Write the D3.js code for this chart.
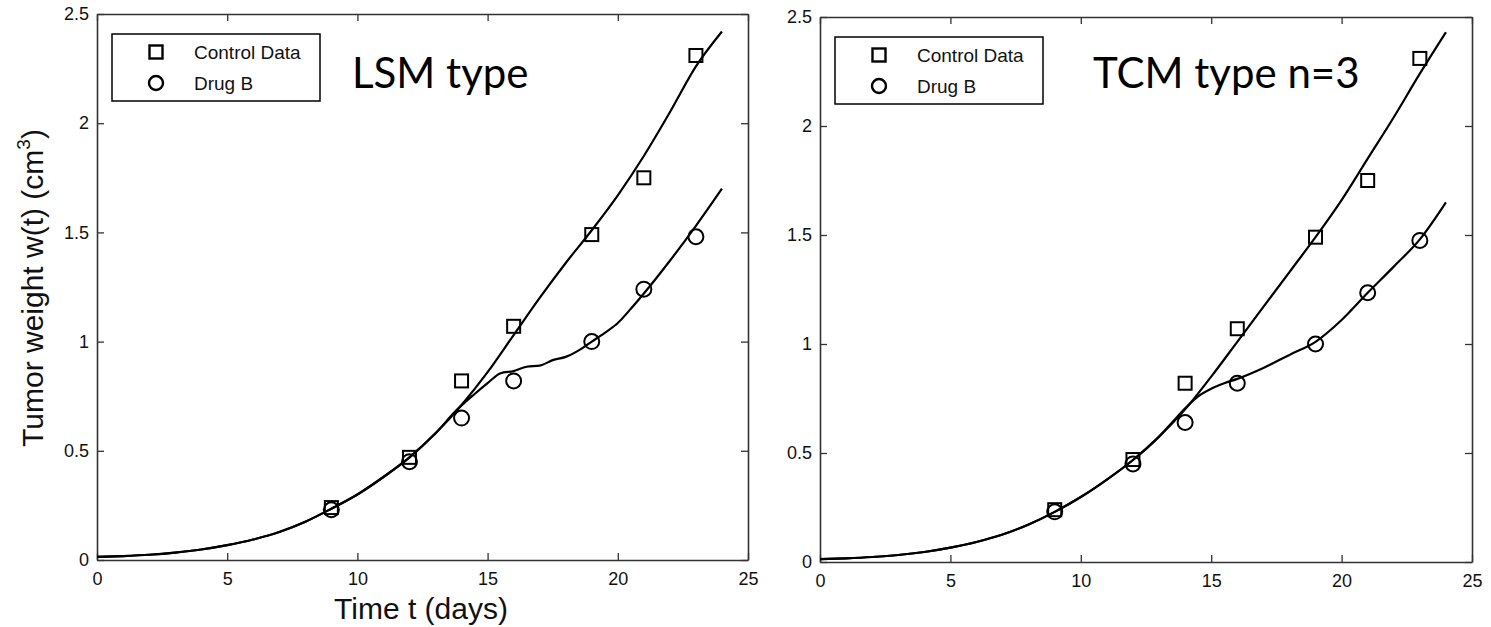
<!DOCTYPE html>
<html>
<head>
<meta charset="utf-8">
<script src="https://cdn.jsdelivr.net/npm/d3@7"></script>
<style>
  body { margin: 0; background: #fff; }
  svg { display: block; }
</style>
</head>
<body>
<div id="chart"></div>
<script>
// measured days and weights
const days = [9, 12, 14, 16, 19, 21, 23];
const controlData = [0.24, 0.47, 0.82, 1.07, 1.49, 1.75, 2.31];
const drugLSM = [0.23, 0.45, 0.65, 0.82, 1.00, 1.24, 1.48];
const drugTCM = [0.23, 0.45, 0.64, 0.82, 1.00, 1.235, 1.475];

// model curves
const fitT = [0, 1, 2, 3, 4, 5, 6, 7, 8, 9, 10, 11, 12, 13, 14, 15, 16, 17, 18, 19, 20, 21, 22, 23, 24];
const lsmControlW = [0.014, 0.018, 0.024, 0.034, 0.048, 0.068, 0.094, 0.128, 0.175, 0.235, 0.30, 0.38, 0.47, 0.58, 0.71, 0.86, 1.03, 1.20, 1.36, 1.51, 1.67, 1.85, 2.05, 2.26, 2.42];
const tcmControlW = [0.013, 0.017, 0.023, 0.032, 0.046, 0.066, 0.092, 0.126, 0.172, 0.23, 0.298, 0.378, 0.468, 0.575, 0.70, 0.85, 1.01, 1.17, 1.33, 1.49, 1.66, 1.85, 2.04, 2.24, 2.43];

const lsmDrugT = [0, 1, 2, 3, 4, 5, 6, 7, 8, 9, 10, 11, 12, 13, 13.8, 14.5, 15, 15.5, 16, 16.5, 17, 17.5, 18, 18.5, 19, 19.5, 20, 20.5, 21, 22, 23, 24];
const lsmDrugW = [0.014, 0.018, 0.024, 0.034, 0.048, 0.068, 0.094, 0.128, 0.175, 0.235, 0.30, 0.38, 0.47, 0.58, 0.685, 0.76, 0.81, 0.855, 0.865, 0.885, 0.89, 0.915, 0.93, 0.96, 1.0, 1.04, 1.085, 1.15, 1.22, 1.37, 1.53, 1.70];

const tcmDrugT = [0, 1, 2, 3, 4, 5, 6, 7, 8, 9, 10, 11, 12, 13, 13.5, 14, 14.5, 15, 15.5, 16, 17, 18, 19, 20, 21, 22, 23, 24];
const tcmDrugW = [0.013, 0.017, 0.023, 0.032, 0.046, 0.066, 0.092, 0.126, 0.172, 0.23, 0.298, 0.378, 0.468, 0.575, 0.64, 0.705, 0.76, 0.795, 0.82, 0.84, 0.89, 0.95, 1.01, 1.11, 1.235, 1.355, 1.48, 1.65];

const xTicks = [0, 5, 10, 15, 20, 25];
const yTicks = [0, 0.5, 1, 1.5, 2, 2.5];
const legendLabels = ['Control Data', 'Drug B'];

const width = 1491, height = 627;

const svg = d3.select('#chart')
    .append('svg')
    .attr('width', width)
    .attr('height', height);

function drawPanel(cfg) {
    const x = d3.scaleLinear().domain([0, 25]).range([cfg.left, cfg.right]);
    const y = d3.scaleLinear().domain([0, 2.5]).range([cfg.bottom, cfg.top]);
    const g = svg.append('g');

    // axes, ticks pointing inward
    const fmt = d => String(d);
    const bottom = g.append('g')
        .attr('transform', `translate(0,${cfg.bottom})`)
        .call(d3.axisBottom(x).tickValues(xTicks).tickSize(-7).tickSizeOuter(0).tickPadding(12).tickFormat(fmt));
    const leftAx = g.append('g')
        .attr('transform', `translate(${cfg.left},0)`)
        .call(d3.axisLeft(y).tickValues(yTicks).tickSize(-7).tickSizeOuter(0).tickPadding(8).tickFormat(fmt));
    const topAx = g.append('g')
        .attr('transform', `translate(0,${cfg.top})`)
        .call(d3.axisTop(x).tickValues(xTicks).tickSize(-7).tickSizeOuter(0).tickFormat(''));
    const rightAx = g.append('g')
        .attr('transform', `translate(${cfg.right},0)`)
        .call(d3.axisRight(y).tickValues(yTicks).tickSize(-7).tickSizeOuter(0).tickFormat(''));

    [bottom, leftAx, topAx, rightAx].forEach(a => {
        a.select('.domain').attr('stroke', '#333').attr('stroke-width', 1.6);
        a.selectAll('.tick line').attr('stroke', '#333').attr('stroke-width', 1.3);
        a.selectAll('.tick text')
            .attr('font-family', 'Liberation Sans, Arial, sans-serif')
            .attr('font-size', 18)
            .attr('fill', '#111');
    });

    // fitted curves
    const line = d3.line()
        .x(d => x(d[0]))
        .y(d => y(d[1]))
        .curve(d3.curveMonotoneX);

    g.append('path')
        .datum(d3.zip(fitT, cfg.controlW))
        .attr('d', line)
        .attr('fill', 'none')
        .attr('stroke', '#000')
        .attr('stroke-width', 2.2);

    g.append('path')
        .datum(d3.zip(cfg.drugT, cfg.drugW))
        .attr('d', line)
        .attr('fill', 'none')
        .attr('stroke', '#000')
        .attr('stroke-width', 2.2);

    // data markers
    const sq = 13;
    g.selectAll('rect.ctrl')
        .data(d3.zip(days, controlData))
        .join('rect')
        .attr('class', 'ctrl')
        .attr('x', d => x(d[0]) - sq / 2)
        .attr('y', d => y(d[1]) - sq / 2)
        .attr('width', sq)
        .attr('height', sq)
        .attr('fill', 'none')
        .attr('stroke', '#000')
        .attr('stroke-width', 2);

    g.selectAll('circle.drug')
        .data(d3.zip(days, cfg.drugData))
        .join('circle')
        .attr('class', 'drug')
        .attr('cx', d => x(d[0]))
        .attr('cy', d => y(d[1]))
        .attr('r', 7.5)
        .attr('fill', 'none')
        .attr('stroke', '#000')
        .attr('stroke-width', 2);

    // legend
    const lg = g.append('g').attr('transform', `translate(${cfg.left + 15},${cfg.top + 20})`);
    lg.append('rect')
        .attr('width', 208)
        .attr('height', 67)
        .attr('fill', '#fff')
        .attr('stroke', '#000')
        .attr('stroke-width', 1.5);
    lg.append('rect')
        .attr('x', 44 - sq / 2).attr('y', 18 - sq / 2)
        .attr('width', sq).attr('height', sq)
        .attr('fill', 'none').attr('stroke', '#000').attr('stroke-width', 2.4);
    lg.append('circle')
        .attr('cx', 44).attr('cy', 49).attr('r', 7)
        .attr('fill', 'none').attr('stroke', '#000').attr('stroke-width', 2.4);
    lg.selectAll('text')
        .data(legendLabels)
        .join('text')
        .attr('x', 82)
        .attr('y', (d, i) => 25 + i * 31)
        .attr('font-family', 'Liberation Sans, Arial, sans-serif')
        .attr('font-size', 19)
        .attr('fill', '#111')
        .text(d => d);

    // model annotation
    g.append('text')
        .attr('x', cfg.noteX)
        .attr('y', 88)
        .attr('font-family', 'Lato, sans-serif')
        .attr('font-size', 42)
        .attr('fill', '#000')
        .text(cfg.note);

    return { x, y };
}

drawPanel({
    left: 97, right: 748, top: 14, bottom: 560,
    controlW: lsmControlW, drugT: lsmDrugT, drugW: lsmDrugW, drugData: drugLSM,
    note: 'LSM type', noteX: 352
});

drawPanel({
    left: 820, right: 1472, top: 17, bottom: 562,
    controlW: tcmControlW, drugT: tcmDrugT, drugW: tcmDrugW, drugData: drugTCM,
    note: 'TCM type n=3', noteX: 1093
});

// axis titles (left panel only)
svg.append('text')
    .attr('x', 421)
    .attr('y', 619)
    .attr('text-anchor', 'middle')
    .attr('font-family', 'Liberation Sans, Arial, sans-serif')
    .attr('font-size', 30)
    .attr('fill', '#111')
    .text('Time t (days)');

const yTitle = svg.append('text')
    .attr('transform', 'translate(43,288) rotate(-90)')
    .attr('text-anchor', 'middle')
    .attr('font-family', 'Liberation Sans, Arial, sans-serif')
    .attr('font-size', 30)
    .attr('fill', '#111');
yTitle.append('tspan').text('Tumor weight w(t) (cm');
yTitle.append('tspan').attr('font-size', 19).attr('dy', -13).text('3');
yTitle.append('tspan').attr('dy', 13).text(')');
</script>
</body>
</html>
